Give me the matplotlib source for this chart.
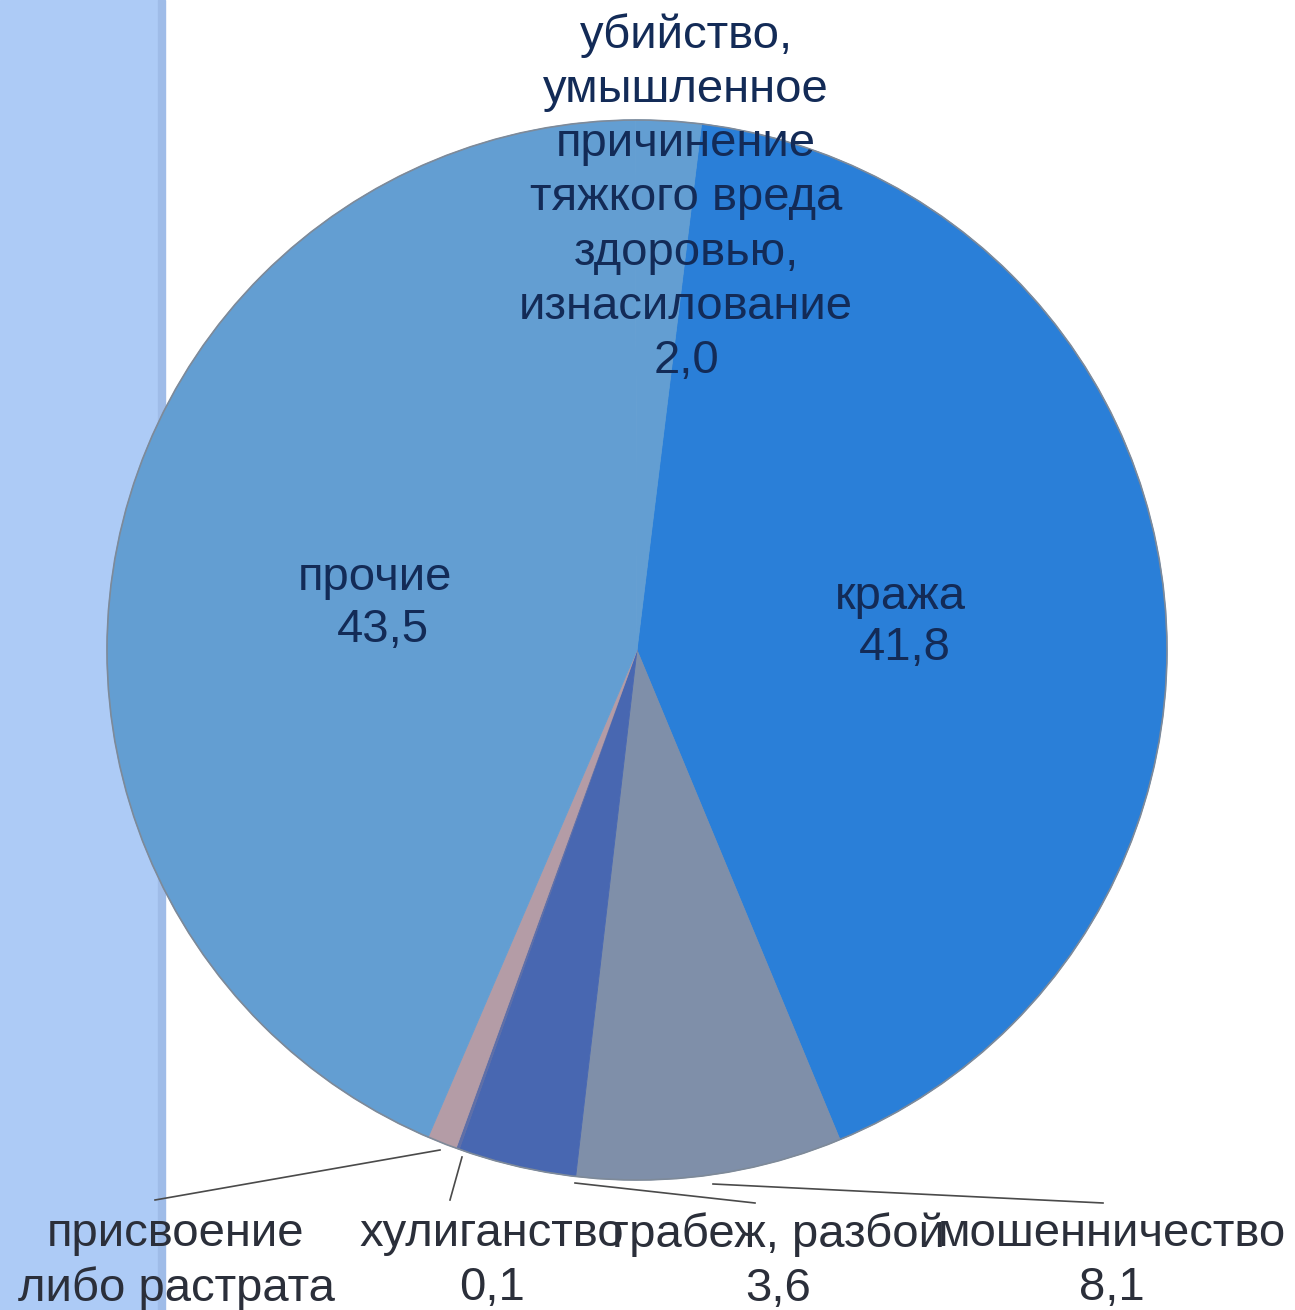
import matplotlib.pyplot as plt
from matplotlib.patches import Rectangle

plt.rcParams['font.family'] = ['Liberation Sans', 'DejaVu Sans']

# slices, clockwise from the top
labels = ['кража', 'мошенничество', 'грабеж, разбой', 'хулиганство',
          'присвоение\nлибо растрата', 'прочие',
          'убийство,\nумышленное\nпричинение\nтяжкого вреда\nздоровью,\nизнасилование']
values = [41.8, 8.1, 3.6, 0.1, 0.9, 43.5, 2.0]
value_text = ['41,8', '8,1', '3,6', '0,1', '', '43,5', '2,0']
colors = ['#2A7FD8', '#7F8FA9', '#4867B1', '#5E6FA8', '#B49CA6', '#639ED2', '#639ED2']

W, H = 1295, 1310


def Y(y):
    return H - y


fig = plt.figure(figsize=(W / 100, H / 100), dpi=100)
ax = fig.add_axes([0, 0, 1, 1])

ax.add_patch(Rectangle((0, 0), 158, H, color='#ADCBF6', zorder=0))
ax.add_patch(Rectangle((158, 0), 7, H, color='#9FBCE8', zorder=0))

cx, cy, r = 637, 650, 530
wedges, _ = ax.pie(values, colors=colors, startangle=83, counterclock=False,
                   center=(cx, Y(cy)), radius=r)
for w, c in zip(wedges, colors):
    w.set_zorder(2)
    w.set_edgecolor(c)
    w.set_linewidth(0.6)
ring = plt.Circle((cx, Y(cy)), r, fill=False, edgecolor='#7E8A99', linewidth=1.2, zorder=3)
ax.add_patch(ring)

ax.set_xlim(0, W)
ax.set_ylim(0, H)
ax.set_aspect('equal')
ax.axis('off')

inside = '#132B57'
outside = '#2B2F3A'
fs = 34
ls = 1.3

# labels placed on the slices
ax.text(900, Y(597), labels[0], ha='center', va='center', fontsize=fs, color=inside, zorder=5)
ax.text(905, Y(648), value_text[0], ha='center', va='center', fontsize=fs, color=inside, zorder=5)
ax.text(375, Y(578), labels[5], ha='center', va='center', fontsize=fs, color=inside, zorder=5)
ax.text(383, Y(630), value_text[5], ha='center', va='center', fontsize=fs, color=inside, zorder=5)
ax.text(686, Y(198), labels[6] + '\n' + value_text[6], ha='center', va='center',
        fontsize=fs, color=inside, linespacing=ls, zorder=5)

# labels below the pie with leader lines
bottom = [(1, 1112, [(1103, 1203), (713, 1184)]),
          (2, 778, [(755, 1203), (575, 1183)]),
          (3, 492, [(450, 1200), (462, 1157)]),
          (4, 176, [(155, 1200), (440, 1150)])]
for i, x, pts in bottom:
    ax.plot([p[0] for p in pts], [Y(p[1]) for p in pts], color='#4A4A4A', lw=1.2, zorder=4)
    txt = labels[i] if not value_text[i] else labels[i] + '\n' + value_text[i]
    ax.text(x, Y(1212), txt, ha='center', va='top', fontsize=fs, color=outside,
            linespacing=ls, zorder=5)

fig.savefig('out.png', dpi=100)
